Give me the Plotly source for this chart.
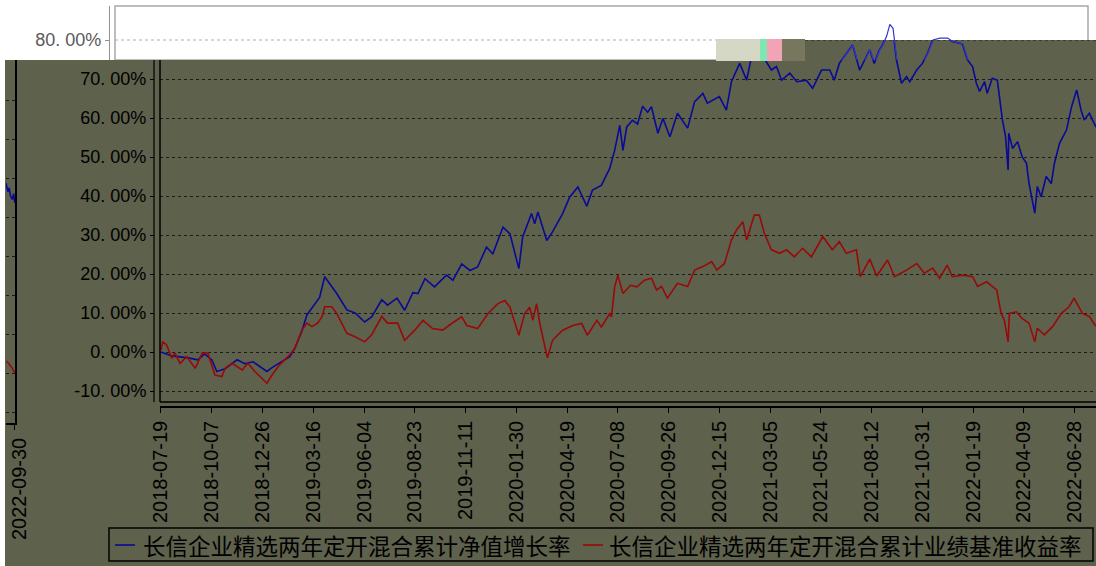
import pandas as pd
import plotly.graph_objects as go

# ---------------- data ----------------
series_names = ["长信企业精选两年定开混合累计净值增长率", "长信企业精选两年定开混合累计业绩基准收益率"]

fund_dates = [
    "2018-07-19", "2018-08-05", "2018-08-31", "2018-09-15", "2018-09-26", "2018-10-07", "2018-10-15",
    "2018-10-28", "2018-11-16", "2018-11-28", "2018-12-11", "2018-12-25", "2019-01-02", "2019-01-10",
    "2019-01-26", "2019-02-07", "2019-02-15", "2019-02-26", "2019-03-06", "2019-03-19", "2019-03-26",
    "2019-04-03", "2019-04-11", "2019-04-22", "2019-05-08", "2019-05-21", "2019-06-05", "2019-06-16",
    "2019-07-02", "2019-07-11", "2019-07-26", "2019-08-07", "2019-08-20", "2019-08-28", "2019-09-08",
    "2019-09-23", "2019-10-12", "2019-10-22", "2019-11-05", "2019-11-18", "2019-11-30", "2019-12-14",
    "2019-12-24", "2020-01-09", "2020-01-20", "2020-02-03", "2020-02-09", "2020-02-23", "2020-02-28",
    "2020-03-04", "2020-03-18", "2020-03-27", "2020-04-12", "2020-04-23", "2020-05-06", "2020-05-20",
    "2020-05-29", "2020-06-12", "2020-06-25", "2020-07-03", "2020-07-11", "2020-07-16", "2020-07-22",
    "2020-07-31", "2020-08-08", "2020-08-16", "2020-08-24", "2020-08-30", "2020-09-09", "2020-09-17",
    "2020-09-28", "2020-10-10", "2020-10-26", "2020-11-06", "2020-11-19", "2020-11-26", "2020-12-15",
    "2020-12-26", "2021-01-03", "2021-01-16", "2021-01-27", "2021-02-04", "2021-02-21", "2021-03-07",
    "2021-03-15", "2021-03-23", "2021-04-05", "2021-04-16", "2021-05-01", "2021-05-11", "2021-05-25",
    "2021-06-07", "2021-06-14", "2021-06-22", "2021-07-13", "2021-07-24", "2021-08-09", "2021-08-16",
    "2021-08-24", "2021-08-29", "2021-09-04", "2021-09-09", "2021-09-14", "2021-09-20", "2021-09-28",
    "2021-10-06", "2021-10-11", "2021-10-22", "2021-10-31", "2021-11-08", "2021-11-16", "2021-11-27",
    "2021-12-09", "2021-12-17", "2022-01-02", "2022-01-10", "2022-01-18", "2022-01-24", "2022-01-29",
    "2022-02-06", "2022-02-10", "2022-02-18", "2022-02-26", "2022-03-04", "2022-03-06", "2022-03-11",
    "2022-03-15", "2022-03-16", "2022-03-22", "2022-03-30", "2022-04-06", "2022-04-13", "2022-04-17",
    "2022-04-26", "2022-04-30", "2022-05-06", "2022-05-14", "2022-05-22", "2022-05-27", "2022-06-04",
    "2022-06-15", "2022-06-23", "2022-07-01", "2022-07-08", "2022-07-13", "2022-07-21", "2022-07-30",
    "2022-09-14", "2022-09-16", "2022-09-19", "2022-09-21", "2022-09-23", "2022-09-26", "2022-09-28",
    "2022-09-30",
]
fund_values = [
    0.0, -1.0, -1.5, -2.0, -0.5, -2.0, -5.0,
    -4.3, -2.0, -3.0, -2.5, -4.0, -5.0, -4.0,
    -2.5, -1.2, 1.0, 5.3, 9.5, 12.5, 14.0,
    19.3, 17.6, 15.0, 10.8, 10.0, 7.7, 9.0,
    13.4, 12.0, 13.8, 10.7, 15.2, 15.0, 18.8,
    16.7, 19.7, 18.4, 22.6, 20.9, 21.8, 26.9,
    25.2, 32.0, 30.3, 21.4, 29.5, 35.5, 32.9,
    35.9, 28.6, 30.8, 35.5, 39.7, 42.3, 37.4,
    41.5, 42.7, 47.0, 51.7, 58.1, 51.7, 57.7,
    59.4, 58.5, 63.0, 61.5, 62.9, 56.1, 59.9,
    55.2, 61.2, 57.4, 64.2, 66.3, 63.8, 65.5,
    62.0, 69.3, 74.0, 69.7, 76.0, 76.0, 72.3,
    73.2, 69.7, 71.5, 69.3, 69.7, 67.6, 72.3,
    72.3, 69.7, 74.0, 78.7, 72.3, 77.5, 74.0,
    77.4, 78.7, 81.0, 84.0, 83.0, 75.0, 68.9,
    70.6, 69.3, 72.3, 74.0, 76.6, 80.0, 80.5,
    80.5, 79.6, 79.0, 74.9, 73.2, 68.9, 66.8,
    69.3, 66.3, 70.2, 69.7, 62.9, 59.5, 55.2,
    46.7, 56.1, 52.2, 53.9, 50.1, 48.4, 43.2,
    35.6, 42.4, 39.8, 45.0, 43.2, 48.4, 53.5,
    56.9, 62.9, 67.2, 62.0, 59.5, 61.2, 58.2,
    46.0, 48.7, 46.5, 47.5, 45.5, 44.5, 46.0,
    43.6,
]

bench_dates = [
    "2018-07-19", "2018-07-22", "2018-07-28", "2018-08-05", "2018-08-10", "2018-08-18", "2018-08-29",
    "2018-09-11", "2018-09-22", "2018-10-01", "2018-10-12", "2018-10-23", "2018-10-28", "2018-11-08",
    "2018-11-24", "2018-12-03", "2018-12-14", "2018-12-25", "2019-01-02", "2019-01-10", "2019-01-22",
    "2019-02-04", "2019-02-15", "2019-02-26", "2019-03-06", "2019-03-14", "2019-03-23", "2019-03-30",
    "2019-04-03", "2019-04-14", "2019-04-22", "2019-05-08", "2019-05-21", "2019-06-05", "2019-06-16",
    "2019-07-02", "2019-07-11", "2019-07-27", "2019-08-07", "2019-08-23", "2019-09-05", "2019-09-20",
    "2019-10-06", "2019-10-20", "2019-11-05", "2019-11-13", "2019-11-30", "2019-12-16", "2020-01-01",
    "2020-01-12", "2020-01-20", "2020-02-03", "2020-02-12", "2020-02-20", "2020-02-25", "2020-03-02",
    "2020-03-07", "2020-03-19", "2020-03-27", "2020-04-12", "2020-04-28", "2020-05-12", "2020-05-21",
    "2020-06-05", "2020-06-12", "2020-06-25", "2020-06-28", "2020-07-03", "2020-07-08", "2020-07-16",
    "2020-07-28", "2020-08-07", "2020-08-19", "2020-08-30", "2020-09-07", "2020-09-15", "2020-09-24",
    "2020-10-10", "2020-10-26", "2020-11-06", "2020-11-19", "2020-12-03", "2020-12-11", "2020-12-23",
    "2021-01-03", "2021-01-11", "2021-01-21", "2021-01-27", "2021-02-08", "2021-02-16", "2021-02-24",
    "2021-03-07", "2021-03-20", "2021-03-31", "2021-04-12", "2021-04-25", "2021-05-09", "2021-05-27",
    "2021-06-11", "2021-06-22", "2021-07-03", "2021-07-19", "2021-07-25", "2021-08-09", "2021-08-20",
    "2021-09-06", "2021-09-17", "2021-10-06", "2021-10-22", "2021-11-03", "2021-11-16", "2021-11-27",
    "2021-12-09", "2021-12-17", "2022-01-02", "2022-01-18", "2022-01-26", "2022-02-09", "2022-02-25",
    "2022-03-04", "2022-03-09", "2022-03-15", "2022-03-17", "2022-03-28", "2022-04-06", "2022-04-17",
    "2022-04-26", "2022-04-30", "2022-05-11", "2022-05-24", "2022-06-07", "2022-06-19", "2022-06-27",
    "2022-07-10", "2022-07-21", "2022-07-30",
    "2022-09-14", "2022-09-20", "2022-09-26", "2022-09-30",
]
bench_values = [
    0.5, 2.6, 1.8, -1.6, -0.3, -2.9, -1.2,
    -4.2, -0.3, -0.3, -5.9, -6.3, -4.2, -2.9,
    -4.6, -2.9, -5.0, -6.8, -8.0, -5.9, -3.3,
    -1.2, 0.9, 5.6, 7.4, 6.5, 7.4, 9.1,
    11.6, 11.6, 9.9, 4.8, 3.9, 2.6, 4.4,
    9.1, 7.4, 7.4, 3.0, 5.6, 8.1, 6.0,
    5.6, 7.3, 9.0, 6.8, 6.0, 9.8, 12.4,
    13.2, 11.5, 4.3, 9.8, 11.5, 8.1, 12.4,
    7.3, -1.5, 3.0, 5.6, 6.8, 7.3, 4.3,
    8.1, 6.4, 9.8, 9.0, 16.7, 19.7, 15.0,
    17.1, 16.7, 18.4, 18.9, 15.9, 16.8, 13.8,
    17.6, 16.8, 21.0, 21.9, 23.2, 21.0, 22.7,
    28.7, 31.3, 33.4, 28.7, 35.1, 35.1, 30.4,
    26.2, 25.3, 26.2, 24.4, 26.6, 24.4, 29.6,
    26.2, 28.3, 25.3, 26.2, 19.3, 23.8, 19.5,
    23.6, 19.3, 21.0, 22.7, 20.2, 21.5, 18.9,
    22.3, 19.3, 19.7, 19.3, 16.8, 18.0, 15.9,
    9.9, 8.2, 2.6, 9.9, 10.3, 8.6, 7.4,
    2.6, 6.1, 4.4, 6.5, 9.9, 11.6, 13.8,
    9.9, 9.1, 6.9,
    3.3, 2.5, 1.2, 0.0,
]

tick_start = "2018-07-19"
tick_step_days = 80
tick_count = 19
y_ticks = [-10, 0, 10, 20, 30, 40, 50, 60, 70]
y_tick_labels = [f"{v:.2f}%".replace(".", ". ") for v in y_ticks]
top_tick = [80]
top_tick_label = [f"{v:.2f}%".replace(".", ". ") for v in top_tick]
last_date = "2022-09-30"

# ---------------- styling / layout helpers ----------------
W, H = 1096, 566
def px(x):
    return x / W
def py(y):
    return 1 - y / H

OLIVE = "#5e614c"
BLUE = "#0a0a96"
RED = "#980a0a"
GRID = "#1c1c1c"
TICKFONT = dict(family="Liberation Sans, Arial, sans-serif", size=18, color="black")
XTICKFONT = dict(family="Liberation Sans, Arial, sans-serif", size=20, color="black")
LEGFONT = dict(family="Noto Sans CJK SC", size=22.5, color="black")

tick_dates = pd.date_range(tick_start, periods=tick_count, freq=f"{tick_step_days}D")

fig = go.Figure()

# main olive chart
fig.add_trace(go.Scatter(x=fund_dates, y=fund_values, mode="lines", name=series_names[0],
                         line=dict(color=BLUE, width=1.6), xaxis="x", yaxis="y"))
fig.add_trace(go.Scatter(x=bench_dates, y=bench_values, mode="lines", name=series_names[1],
                         line=dict(color=RED, width=1.6), xaxis="x", yaxis="y"))
# white strip chart at the top
fig.add_trace(go.Scatter(x=fund_dates, y=fund_values, mode="lines", showlegend=False,
                         line=dict(color="#3535c8", width=1.2), xaxis="x2", yaxis="y2", hoverinfo="skip"))
# wrapped sliver at the left edge
fig.add_trace(go.Scatter(x=fund_dates, y=fund_values, mode="lines", showlegend=False,
                         line=dict(color=BLUE, width=1.6), xaxis="x3", yaxis="y3", hoverinfo="skip"))
fig.add_trace(go.Scatter(x=bench_dates, y=bench_values, mode="lines", showlegend=False,
                         line=dict(color=RED, width=1.6), xaxis="x3", yaxis="y3", hoverinfo="skip"))

shapes = [
    # white chart frame
    dict(type="rect", xref="paper", yref="paper", x0=px(115), x1=px(1088), y0=py(60), y1=py(6),
         line=dict(color="#a8a8a8", width=1.5), fillcolor="rgba(0,0,0,0)", layer="below"),
    dict(type="line", xref="paper", yref="y2", x0=px(115), x1=px(717), y0=80, y1=80,
         line=dict(color="#b0b0b0", width=1, dash="3px,3px"), layer="below"),
    # olive backgrounds
    dict(type="rect", xref="paper", yref="paper", x0=px(5), x1=1, y0=0, y1=py(60),
         line=dict(width=0), fillcolor=OLIVE, layer="below"),
    dict(type="rect", xref="paper", yref="paper", x0=px(805), x1=1, y0=py(60), y1=py(40),
         line=dict(width=0), fillcolor=OLIVE, layer="below"),
    dict(type="line", xref="paper", yref="y", x0=px(805), x1=1, y0=80, y1=80,
         line=dict(color=GRID, width=1, dash="3px,3px"), layer="below"),
    # main chart frame and y axis line
    dict(type="line", xref="paper", yref="paper", x0=px(160), x1=px(160), y0=py(402), y1=py(60),
         line=dict(color="black", width=1.5)),
    dict(type="line", xref="paper", yref="paper", x0=px(154), x1=px(154), y0=py(402), y1=py(60),
         line=dict(color="black", width=1.2)),
    dict(type="line", xref="paper", yref="paper", x0=px(160), x1=1, y0=py(402), y1=py(402),
         line=dict(color="black", width=1.5)),
    # rendering glitch block
    dict(type="rect", xref="paper", yref="paper", x0=px(716), x1=px(760), y0=py(61), y1=py(39),
         line=dict(width=0), fillcolor="#d6d8c6", layer="above"),
    dict(type="rect", xref="paper", yref="paper", x0=px(760), x1=px(767), y0=py(61), y1=py(39),
         line=dict(width=0), fillcolor="#7de6b2", layer="above"),
    dict(type="rect", xref="paper", yref="paper", x0=px(767), x1=px(782), y0=py(61), y1=py(39),
         line=dict(width=0), fillcolor="#f2a3b6", layer="above"),
    dict(type="rect", xref="paper", yref="paper", x0=px(782), x1=px(805), y0=py(61), y1=py(39),
         line=dict(width=0), fillcolor="#77775e", layer="above"),
    # legend box and keys
    dict(type="rect", xref="paper", yref="paper", x0=px(109), x1=px(1093), y0=py(561), y1=py(528),
         line=dict(color="black", width=1.5), fillcolor=OLIVE, layer="above"),
    dict(type="line", xref="paper", yref="paper", x0=px(115), x1=px(135), y0=py(545), y1=py(545),
         line=dict(color=BLUE, width=1.6), layer="above"),
    dict(type="line", xref="paper", yref="paper", x0=px(583), x1=px(603), y0=py(545), y1=py(545),
         line=dict(color=RED, width=1.6), layer="above"),
]

annotations = [
    dict(xref="paper", yref="paper", x=px(141), y=py(545), xanchor="left", yanchor="middle",
         text=series_names[0], showarrow=False, font=LEGFONT),
    dict(xref="paper", yref="paper", x=px(607), y=py(545), xanchor="left", yanchor="middle",
         text=series_names[1], showarrow=False, font=LEGFONT),
]

fig.update_layout(
    width=W, height=H,
    margin=dict(l=0, r=0, t=0, b=0, autoexpand=False),
    paper_bgcolor="white",
    plot_bgcolor="rgba(0,0,0,0)",
    shapes=shapes,
    annotations=annotations,
    showlegend=False,
    xaxis=dict(domain=[px(160), 1], range=["2018-07-17 12:00", "2022-07-31 12:00"],
               anchor="free", position=py(407), showline=True, linecolor="black", linewidth=1.5,
               ticks="outside", ticklen=5, tickcolor="black", tickangle=-90,
               tickvals=tick_dates, tickformat="%Y-%m-%d", tickfont=XTICKFONT,
               showgrid=False, zeroline=False),
    yaxis=dict(domain=[py(402), py(40)], range=[-12.82, 80.0], anchor="free", position=px(154),
               showline=False, ticks="outside", ticklen=4, tickcolor="black",
               tickvals=y_ticks, ticktext=y_tick_labels, tickfont=TICKFONT,
               showgrid=True, gridcolor=GRID, gridwidth=1, griddash="3px,3px", zeroline=False),
    xaxis2=dict(domain=[px(115), px(1088)], range=["2018-05-08", "2022-07-18"], anchor="y2",
                visible=False),
    yaxis2=dict(domain=[py(60), py(6)], range=[74.87, 88.72], anchor="free", position=px(109),
                showline=True, linecolor="#909090", linewidth=1.2, ticks="outside", ticklen=4,
                tickcolor="#909090", tickvals=top_tick, ticktext=top_tick_label,
                tickfont=dict(family="Liberation Sans, Arial, sans-serif", size=18, color="#5a5a5a"),
                showgrid=False, zeroline=False),
    xaxis3=dict(domain=[px(6), px(15)], range=["2022-09-16", "2022-09-30 06:00"], anchor="y3",
                showline=True, linecolor="black", linewidth=1.5, ticks="outside", ticklen=5,
                tickcolor="black", tickvals=[last_date], tickformat="%Y-%m-%d", tickangle=-90,
                ticklabelshift=5, tickfont=XTICKFONT,
                showgrid=False, zeroline=False),
    yaxis3=dict(domain=[py(423), py(60)], range=[-12.82, 80.26], anchor="x3", side="right",
                showline=True, linecolor="black", linewidth=1.5, ticks="", showticklabels=False,
                tickvals=y_ticks, showgrid=True, gridcolor=GRID, gridwidth=1, griddash="3px,3px",
                zeroline=False),
)

fig.write_html("out.html", post_script="document.body.style.margin='0';",
               config={"displayModeBar": False})
